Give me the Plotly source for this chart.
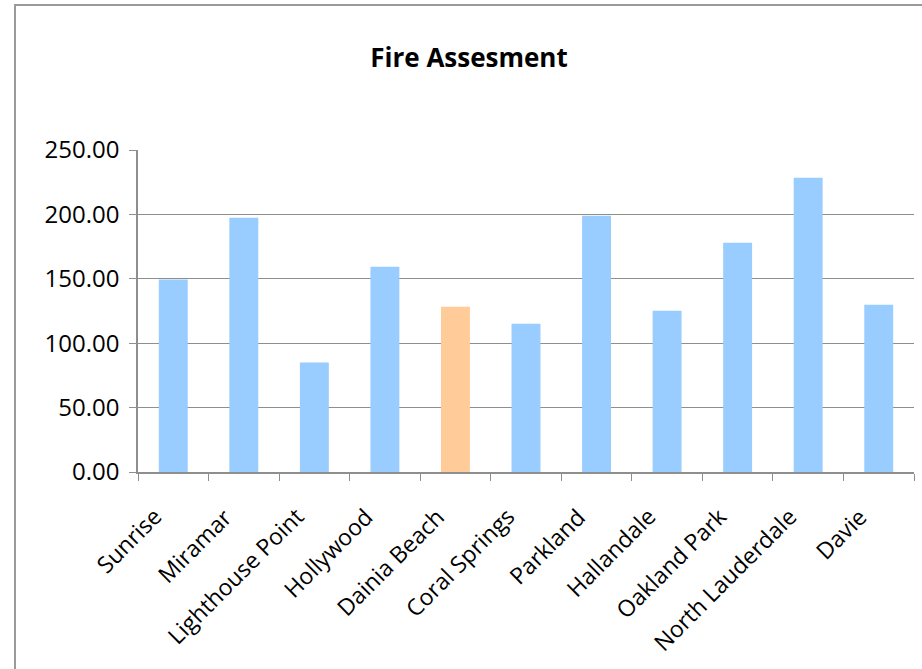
import plotly.graph_objects as go

# Fire assessment values per city
cities = ["Sunrise", "Miramar", "Lighthouse Point", "Hollywood", "Dainia Beach",
          "Coral Springs", "Parkland", "Hallandale", "Oakland Park",
          "North Lauderdale", "Davie"]
scores = [149.5, 197.4, 85.0, 159.4, 128.3, 115.1, 199.0, 125.2, 178.0, 228.5, 129.9]
highlight_city = "Dainia Beach"

y_ticks = [0, 50, 100, 150, 200, 250]

BLUE = "#99CCFF"
ORANGE = "#FFCC99"
GRID = "#8E8E8E"
FONT = "Open Sans"

bar_colors = [ORANGE if c == highlight_city else BLUE for c in cities]

W, H = 922, 669
L, R, T, B = 138, 8, 150, 197
plot_w = W - L - R
plot_h = H - T - B

fig = go.Figure(
    go.Bar(
        x=cities,
        y=scores,
        marker=dict(color=bar_colors, line=dict(width=0)),
        width=0.41,
    )
)


def px_to_paper_x(px):
    return (px - L) / plot_w


def px_to_paper_y(py):
    return (H - B - py) / plot_h


# chart frame around the whole drawing area
fig.add_shape(
    type="rect", xref="paper", yref="paper", layer="below",
    x0=px_to_paper_x(15), x1=px_to_paper_x(940),
    y0=px_to_paper_y(700), y1=px_to_paper_y(5),
    line=dict(color="#9A9A9A", width=2), fillcolor="rgba(0,0,0,0)",
)

# rotated category labels, end of text tucked under each category
for c in cities:
    fig.add_annotation(
        x=c, xref="x",
        y=px_to_paper_y(498), yref="paper",
        text=c, textangle=-45,
        xanchor="right", yanchor="top",
        xshift=-2,
        showarrow=False,
        font=dict(family=FONT, size=23, color="black"),
    )

fig.update_layout(
    width=W, height=H,
    margin=dict(l=L, r=R, t=T, b=B, pad=0),
    paper_bgcolor="white",
    plot_bgcolor="white",
    showlegend=False,
    bargap=0.59,
    title=dict(
        text="<b>Fire Assesment</b>",
        x=469 / W, xref="container", xanchor="center",
        y=1 - 58 / H, yref="container", yanchor="middle",
        font=dict(family=FONT, size=26, color="black"),
    ),
    font=dict(family=FONT, color="black"),
)

fig.update_xaxes(
    type="category",
    range=[-0.5, len(cities) - 0.5],
    showticklabels=False,
    ticks="outside", ticklen=7, tickcolor=GRID, tickwidth=1,
    tickson="boundaries",
    showline=True, linecolor=GRID, linewidth=1.5,
    showgrid=False,
)

fig.update_yaxes(
    range=[0, 250],
    tickvals=y_ticks,
    tickformat=".2f",
    tickfont=dict(family=FONT, size=24, color="black"),
    ticks="outside", ticklen=7, tickcolor=GRID, tickwidth=1,
    ticklabelstandoff=5,
    showline=True, linecolor=GRID, linewidth=1.5,
    showgrid=True, gridcolor=GRID, gridwidth=1,
    zeroline=False,
)

fig.write_html("out.html")
